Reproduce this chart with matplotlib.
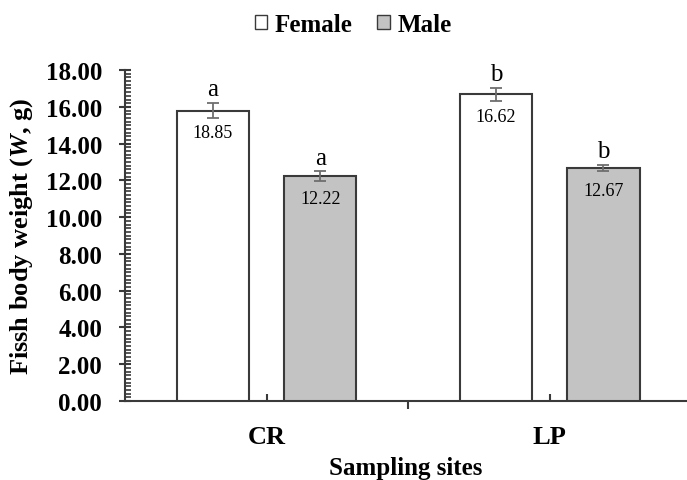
import matplotlib.pyplot as plt
from matplotlib.patches import Patch
from matplotlib.ticker import MultipleLocator, FixedLocator

# DATA
sites = ["CR", "LP"]
female_mean = [15.8, 16.68]
female_err = [0.40, 0.35]
male_mean = [12.22, 12.66]
male_err = [0.27, 0.17]
female_text = ["18.85", "16.62"]
male_text = ["12.22", "12.67"]
female_letters = ["a", "b"]
male_letters = ["a", "b"]

# STYLE
FONT = "Liberation Serif"
EDGE = "#3a3a3a"
COLOR_F = "white"
COLOR_M = "#c3c3c3"
COLOR_ERR = "#6e6e6e"
WIDTH = 0.255
OFFSET = 0.19

plt.rcParams["font.family"] = FONT
plt.rcParams["mathtext.fontset"] = "custom"
plt.rcParams["mathtext.rm"] = FONT
plt.rcParams["mathtext.it"] = FONT + ":italic"
plt.rcParams["mathtext.bf"] = FONT + ":bold"
plt.rcParams["mathtext.bfit"] = FONT + ":italic:bold"

fig = plt.figure(figsize=(6.87, 4.81), dpi=100)
ax = fig.add_axes([0.182, 0.1642, 0.818, 0.688])

x = list(range(len(sites)))
x_f = [i - OFFSET for i in x]
x_m = [i + OFFSET for i in x]

ax.bar(x_f, female_mean, width=WIDTH, color=COLOR_F, edgecolor=EDGE, lw=1.5, zorder=3)
ax.bar(x_m, male_mean, width=WIDTH, color=COLOR_M, edgecolor=EDGE, lw=1.5, zorder=3)
ax.errorbar(x_f, female_mean, yerr=female_err, fmt="none", ecolor=COLOR_ERR,
            elinewidth=1.3, capsize=4, capthick=1.3, zorder=4)
ax.errorbar(x_m, male_mean, yerr=male_err, fmt="none", ecolor=COLOR_ERR,
            elinewidth=1.3, capsize=4, capthick=1.3, zorder=4)

# value labels inside bars, letters above
for xs, ms, es, txt, let in [(x_f, female_mean, female_err, female_text, female_letters),
                             (x_m, male_mean, male_err, male_text, male_letters)]:
    for xi, m, e, t, l in zip(xs, ms, es, txt, let):
        ax.annotate(t, (xi, m), xytext=(0, -16), textcoords="offset points",
                    ha="center", va="center", fontsize=13, zorder=5)
        ax.annotate(l, (xi, m + e), xytext=(0, 2), textcoords="offset points",
                    ha="center", va="bottom", fontsize=18, zorder=5)

# axes
ax.set_xlim(-0.5, 1.485)
ax.set_ylim(0, 18)
for s in ["top", "right"]:
    ax.spines[s].set_visible(False)
for s in ["left", "bottom"]:
    ax.spines[s].set_linewidth(1.5)
    ax.spines[s].set_color(EDGE)

ax.yaxis.set_major_locator(MultipleLocator(2))
ax.yaxis.set_minor_locator(MultipleLocator(0.2))
ax.set_yticklabels([f"{v:.2f}" for v in ax.get_yticks()])
ax.tick_params(axis="y", which="major", direction="inout", length=9, width=1.5,
               color=EDGE, pad=12, labelsize=18)
ax.tick_params(axis="y", which="minor", direction="in", length=4, width=1.2, color=EDGE)
for lab in ax.get_yticklabels():
    lab.set_fontweight("bold")

ax.set_xticks(x)
ax.set_xticklabels(sites, fontsize=19, fontweight="bold")
ax.xaxis.set_minor_locator(FixedLocator([0.5]))
ax.tick_params(axis="x", which="major", direction="in", length=5, width=1.5,
               color=EDGE, pad=17)
ax.tick_params(axis="x", which="minor", direction="out", length=6, width=1.5, color=EDGE)

ax.set_xlabel("Sampling sites", fontsize=18, fontweight="bold", labelpad=6)
ax.set_ylabel("Fissh body weight ($\\mathbfit{W}$, g)", fontsize=19, fontweight="bold")
ax.yaxis.set_label_coords(-0.16, 0.5)

# legend
handles = [Patch(facecolor=COLOR_F, edgecolor=EDGE, lw=1.0, label="Female"),
           Patch(facecolor=COLOR_M, edgecolor=EDGE, lw=1.0, label="Male")]
fig.legend(handles=handles, loc="center", bbox_to_anchor=(0.514, 0.948), ncol=2,
           frameon=False, handlelength=0.5, handleheight=0.5, handletextpad=0.3,
           columnspacing=1.0, prop={"family": FONT, "weight": "bold", "size": 18})

plt.savefig("out.png", dpi=100)
plt.close()
